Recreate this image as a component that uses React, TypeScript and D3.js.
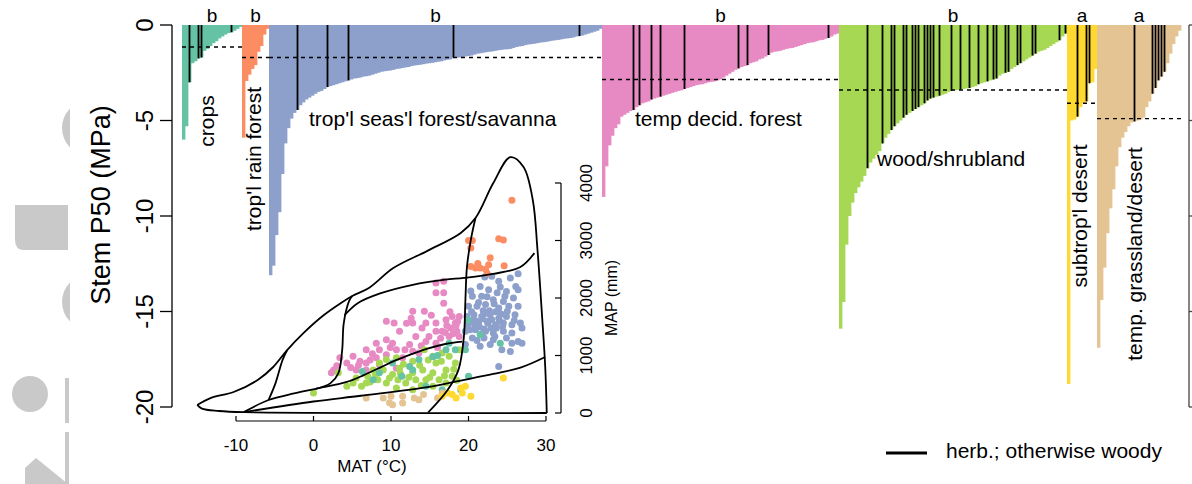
import React from 'react';
import * as d3 from 'd3';

// biome groups, left to right
const biomeNames = ['crops', "trop'l rain forest", "trop'l seas'l forest/savanna", 'temp decid. forest', 'wood/shrubland', "subtrop'l desert", 'temp. grassland/desert'];
const biomeLetters = ['b', 'b', 'b', 'b', 'b', 'a', 'a'];
const biomeMedians = [-1.15, -1.7, -1.7, -2.85, -3.4, -4.1, -4.9];
const biomeColors = ['#66c2a5', '#fc8d62', '#8da0cb', '#e78ac3', '#a6d854', '#ffd92f', '#e5c494'];

// stem P50 (MPa) per species, sorted within biome
const cropsP50 = [-6.0, -5.3, -3.0, -2.0, -1.9, -1.75, -1.7, -1.35, -1.25, -1.1, -0.95, -0.85, -0.7, -0.6, -0.5, -0.42, -0.38, -0.3, -0.2, -0.1];
const rainForestP50 = [-5.9, -2.93, -2.6, -2.3, -2.1, -1.4, -1.1, -0.5, -0.2];
const seasonalP50 = [
  -13.1, -12.6, -11.0, -9.8, -7.8, -6.2, -5.4, -4.9, -4.6, -4.45,
  -4.2, -4.05, -3.9, -3.8, -3.7, -3.6, -3.5, -3.45, -3.35, -3.25,
  -3.2, -3.15, -3.1, -3.05, -3.0, -2.95, -2.9, -2.85, -2.8, -2.78,
  -2.75, -2.7, -2.68, -2.65, -2.6, -2.55, -2.5, -2.45, -2.42, -2.4,
  -2.38, -2.35, -2.3, -2.28, -2.25, -2.22, -2.2, -2.15, -2.12, -2.1,
  -2.08, -2.05, -2.02, -2.0, -1.98, -1.95, -1.92, -1.9, -1.85, -1.82,
  -1.8, -1.7, -1.72, -1.7, -1.68, -1.65, -1.62, -1.6, -1.55, -1.5,
  -1.48, -1.45, -1.42, -1.4, -1.38, -1.35, -1.32, -1.3, -1.28, -1.27,
  -1.25, -1.2, -1.15, -1.12, -1.1, -1.05, -1.02, -1.0, -0.98, -0.95,
  -0.92, -0.9, -0.88, -0.85, -0.82, -0.8, -0.78, -0.75, -0.72, -0.7,
  -0.68, -0.65, -0.6, -0.58, -0.55, -0.5, -0.45, -0.4, -0.35, -0.3, -0.2,
];
const decidP50 = [
  -9.0, -7.4, -6.3, -5.8, -5.4, -5.2, -4.8, -4.7, -4.6, -4.5,
  -4.45, -4.3, -4.2, -4.1, -4.05, -4.0, -3.9, -3.85, -3.8, -3.75,
  -3.7, -3.65, -3.6, -3.55, -3.5, -3.45, -3.42, -3.35, -3.3, -3.25,
  -3.2, -3.15, -3.12, -3.1, -3.05, -3.0, -2.98, -2.95, -2.9, -2.85,
  -2.75, -2.65, -2.55, -2.45, -2.35, -2.27, -2.2, -2.15, -2.1, -2.0,
  -1.95, -1.9, -1.8, -1.75, -1.65, -1.57, -1.45, -1.4, -1.38, -1.35,
  -1.3, -1.25, -1.22, -1.2, -1.15, -1.1, -1.05, -1.0, -0.95, -0.92,
  -0.9, -0.85, -0.8, -0.78, -0.72, -0.68, -0.6, -0.5, -0.45,
];
const woodP50 = [
  -15.9, -14.5, -11.5, -10.0, -9.3, -8.8, -8.5, -8.2, -7.9, -7.5,
  -7.2, -7.0, -6.8, -6.6, -6.2, -5.9, -5.7, -5.5, -5.3, -5.15,
  -5.0, -4.85, -4.7, -4.6, -4.5, -4.4, -4.3, -4.2, -4.1, -3.95,
  -3.85, -3.8, -3.75, -3.7, -3.65, -3.6, -3.5, -3.45, -3.42, -3.4,
  -3.38, -3.35, -3.32, -3.3, -3.25, -3.2, -3.1, -3.05, -3.0, -2.95,
  -2.9, -2.85, -2.8, -2.65, -2.55, -2.5, -2.45, -2.3, -2.2, -2.1,
  -2.0, -1.9, -1.8, -1.7, -1.6, -1.5, -1.4, -1.35, -1.3, -1.2,
  -1.1, -1.0, -0.9, -0.8, -0.6, -0.45,
];
const subtropDesertP50 = [-18.8, -5.0, -4.95, -4.8, -4.3, -4.1, -4.0, -3.05, -3.0, -2.3];
const grasslandP50 = [
  -16.9, -14.4, -12.7, -10.9, -9.6, -8.6, -7.4, -6.4, -5.9, -5.6,
  -5.3, -5.1, -5.05, -5.0, -4.95, -4.85, -4.3, -4.0, -3.6, -3.3,
  -2.9, -2.7, -2.45, -2.0, -1.5, -1.0, -0.6, -0.3,
];

// indices of herbaceous species within each biome
const cropsHerb = [2, 5, 6, 16];
const rainForestHerb: number[] = [];
const seasonalHerb = [9, 19, 26, 61, 103];
const decidHerb = [10, 12, 16, 19, 27, 45, 48, 55, 75];
const woodHerb = [9, 14, 17, 18, 21, 22, 24, 25, 26, 28, 29, 30, 31, 33, 37, 40, 43, 46, 49, 51, 52, 55, 56, 59, 60, 64, 65, 73, 75];
const subtropDesertHerb = [3, 6, 7];
const grasslandHerb = [12, 18, 19, 20, 21, 22];

const yTicks = [0, -5, -10, -15, -20];

// inset: climate space (MAT degC, MAP mm)
const matTicks = [-10, 0, 10, 20, 30];
const mapTicks = [0, 1000, 2000, 3000, 4000];

const outerUpper: [number, number][] = [
  [-15, 140], [-13.3, 260], [-10.3, 365], [-7.2, 574], [-5.2, 800], [-3.4, 1095], [-1.3, 1390],
  [1.3, 1700], [3.5, 1910], [5.0, 2035], [7.2, 2180], [10.3, 2520], [14.7, 2820], [19.0, 3130],
  [20.9, 3390], [23.2, 4000], [25.4, 4450], [27.1, 4280], [28.3, 3700], [28.9, 2840], [29.5, 1670],
  [29.9, 800], [30.1, 0],
];
const outerLower: [number, number][] = [[30.1, 0], [-9.0, 15], [-12.2, 35], [-14.4, 75], [-15, 140]];
const tundraLine: [number, number][] = [[-3.4, 1095], [-4.0, 920], [-4.9, 520], [-5.8, 226]];
const forestWoodLine: [number, number][] = [
  [-9.0, 15], [-5.8, 226], [-2.5, 340], [0.3, 420], [4.3, 540], [6.5, 660], [8.6, 790],
  [10.5, 910], [12.8, 1030], [14.7, 1120], [17.0, 1200], [19.2, 1240],
];
const borealLine: [number, number][] = [[0.3, 420], [2.2, 520], [3.2, 690], [3.7, 1095], [3.9, 1560], [4.6, 1950], [5.0, 2035]];
const rainSeasonalLine: [number, number][] = [
  [4.0, 1700], [5.7, 1910], [8.6, 2080], [12.8, 2230], [17.0, 2320], [19.4, 2350],
  [23.2, 2420], [26.7, 2540], [28.5, 2780],
];
const woodDesertLine: [number, number][] = [[-9.0, 15], [0, 200], [6.1, 300], [14.7, 450], [19.0, 565], [23.2, 680], [26.7, 790], [29.9, 975]];
const tropicalLine: [number, number][] = [
  [14.8, 10], [17.3, 400], [18.7, 750], [19.4, 1320], [19.6, 1965], [19.8, 2540], [20.3, 3010], [20.9, 3390],
];

const cropsSites: [number, number][] = [
  [12.4, 810], [13.6, 930], [17.1, 1100], [18.3, 1100], [19.6, 1100], [19.0, 405], [16.6, 405], [21.5, 1360],
  [24.1, 1215], [20.0, 640], [17.5, 1215], [12.8, 750], [10.2, 870], [7.7, 580], [14.5, 465], [8.5, 700],
  [19.9, 1617], [15.4, 980], [16.0, 1000], [11.4, 640], [6.3, 720],
];
const rainForestSites: [number, number][] = [
  [25.6, 3700], [20.0, 3000], [20.5, 3000], [20.3, 2870], [23.9, 3030], [24.5, 3010], [22.8, 2700], [20.3, 2550],
  [20.9, 2520], [21.5, 2520], [22.2, 2500], [22.6, 2580], [24.6, 2560], [22.4, 2430], [21.2, 2600],
];
const seasonalSites: [number, number][] = [
  [25.4, 2350], [26.4, 2420], [26.1, 2200], [22.1, 2365], [23.0, 2380], [23.9, 2290], [21.5, 2200], [22.6, 2145],
  [23.7, 2090], [24.9, 2115], [26.4, 2145], [20.5, 2030], [21.7, 2030], [23.2, 1970], [24.5, 1940], [25.8, 2000],
  [20.0, 1855], [21.1, 1855], [22.2, 1885], [23.9, 1825], [25.2, 1855], [26.4, 1855], [19.8, 1680], [20.7, 1710],
  [21.7, 1680], [22.8, 1710], [23.9, 1650], [24.9, 1680], [26.0, 1710], [20.0, 1565], [21.3, 1565], [22.4, 1595],
  [23.5, 1535], [24.5, 1565], [25.6, 1535], [26.7, 1565], [26.9, 1480], [19.6, 1420], [20.9, 1450], [22.2, 1420],
  [23.2, 1390], [24.5, 1420], [25.6, 1390], [20.5, 1305], [22.0, 1305], [23.2, 1275], [24.9, 1305], [26.4, 1245],
  [25.6, 1215], [24.3, 1100], [25.4, 1070], [19.6, 1190], [21.5, 1160], [23.9, 810], [26.9, 1215], [22.8, 1190],
  [21.0, 1600], [21.8, 1640], [22.5, 1560], [23.0, 1620], [21.4, 1500], [22.0, 1460], [20.6, 1620], [23.6, 1480],
  [24.0, 1600], [22.7, 1780], [21.9, 1780], [23.3, 1900], [24.2, 1720], [20.2, 1450], [19.9, 1520],
  [20.4, 1760], [21.3, 1920], [22.4, 2020], [24.7, 2030], [25.0, 1770], [25.9, 1610], [23.4, 1330], [21.7, 1380],
  [20.8, 1540], [22.9, 1480], [24.4, 1510], [21.1, 1260], [20.3, 2120], [24.1, 2190], [22.0, 1720], [23.5, 1760],
];
const decidSites: [number, number][] = [
  [15.8, 2260], [16.8, 2290], [15.8, 2090], [16.8, 2090], [16.8, 1910], [12.8, 1770], [14.3, 1770], [9.4, 1595],
  [10.4, 1565], [12.6, 1650], [12.8, 1565], [14.5, 1565], [15.8, 1565], [17.1, 1620], [17.9, 1680], [18.8, 1680],
  [18.3, 1565], [17.7, 1480], [18.5, 1420], [16.6, 1420], [15.8, 1420], [13.2, 1330], [11.1, 1420], [9.4, 1275],
  [8.1, 1215], [10.2, 1215], [12.4, 1190], [14.5, 1245], [15.8, 1215], [17.5, 1330], [18.8, 1330], [6.8, 1100],
  [8.5, 1100], [10.7, 1100], [12.8, 1075], [5.1, 985], [6.0, 900], [6.8, 870], [8.1, 960], [9.4, 1015],
  [4.3, 870], [3.4, 960], [2.6, 750], [2.3, 700], [5.5, 750], [6.8, 750], [8.5, 840], [10.7, 780],
  [11.5, 960], [13.6, 1045], [14.9, 1330], [17.2, 1520], [18.0, 1380], [16.4, 1300], [17.6, 1760],
  [18.4, 1520], [17.0, 1400], [7.3, 920], [5.8, 830], [7.6, 1030], [9.9, 1140], [11.8, 1100], [13.9, 1170],
  [16.0, 1140], [14.0, 1480], [12.0, 1560], [18.6, 1590], [15.2, 1700], [3.0, 820], [4.8, 790],
];
const woodSites: [number, number][] = [
  [5.1, 520], [5.5, 610], [7.0, 640], [7.7, 750], [8.3, 580], [9.0, 750], [9.4, 520], [10.2, 670],
  [10.9, 580], [11.1, 780], [11.9, 520], [12.8, 700], [13.2, 580], [14.1, 750], [14.5, 580], [15.4, 700],
  [15.8, 870], [16.2, 580], [16.6, 1045], [17.1, 750], [17.5, 985], [17.9, 640], [18.3, 870], [18.8, 1100],
  [8.5, 870], [9.4, 930], [10.7, 960], [12.8, 900], [14.3, 1100], [15.4, 985], [6.2, 465], [6.8, 520],
  [10.7, 435], [12.8, 405], [15.4, 465], [17.1, 520], [4.3, 465], [3.2, 700], [0, 350],
  [11.6, 850], [13.7, 830], [15.0, 620], [16.9, 650], [18.1, 760], [12.3, 620], [9.8, 610], [7.3, 540],
  [13.9, 480], [16.5, 900], [11.2, 690], [14.8, 920], [18.5, 570], [8.0, 680],
];
const grasslandSites: [number, number][] = [
  [6.8, 260], [9.0, 260], [10.0, 290], [11.5, 175], [10.2, 145], [13.0, 260], [13.6, 230], [16.0, 260],
  [16.6, 350], [11.5, 290], [9.8, 180], [14.2, 320],
];
const desertSites: [number, number][] = [
  [17.3, 350], [17.9, 320], [19.0, 435], [19.6, 465], [20.3, 290], [19.2, 350], [24.5, 610], [16.6, 290], [18.4, 260],
];

const biomeValues = [cropsP50, rainForestP50, seasonalP50, decidP50, woodP50, subtropDesertP50, grasslandP50];
const biomeHerb = [cropsHerb, rainForestHerb, seasonalHerb, decidHerb, woodHerb, subtropDesertHerb, grasslandHerb];
const biomeSites = [decidSites, seasonalSites, rainForestSites, woodSites, cropsSites, grasslandSites, desertSites];
const siteColorIdx = [3, 2, 1, 4, 0, 6, 5];

// label placement: [x, y, rotated]
const labelPos: [number, number, boolean][] = [
  [214, 121, true], [261, 159, true], [309, 126, false], [635, 126, false],
  [877, 166, false], [1087, 216, true], [1142, 254, true],
];

const FONT = '"Liberation Sans", Arial, Helvetica, sans-serif';

export default function App() {
  const bars = biomeValues.flatMap((vals, b) =>
    vals.map((v, i) => ({ key: `${b}-${i}`, biome: b, value: v, herb: biomeHerb[b].includes(i) })));

  const x = d3.scaleBand<string>().domain(bars.map(d => d.key)).range([182, 1181]);
  const bw = x.bandwidth();
  const y = d3.scaleLinear().domain([-20, 0]).range([407, 25]);

  const biomeSpan = biomeValues.map((vals, b) => {
    const x0 = x(`${b}-0`)!;
    const x1 = x(`${b}-${vals.length - 1}`)! + bw;
    return [x0, x1];
  });

  const mat = d3.scaleLinear().domain([-10, 30]).range([236, 546]);
  const map = d3.scaleLinear().domain([0, 4000]).range([413, 183]);
  const curve = d3.line<[number, number]>()
    .x(d => mat(d[0])).y(d => map(d[1]))
    .curve(d3.curveCatmullRom.alpha(0.5));
  const boundaries = [outerUpper, outerLower, tundraLine, forestWoodLine, borealLine, rainSeasonalLine, woodDesertLine, tropicalLine];

  return (
    <svg width={1192} height={484} style={{ position: 'absolute', left: 0, top: 0, background: '#fff' }} fontFamily={FONT}>
      <defs>
        <clipPath id="edge"><rect x={0} y={0} width={70} height={484} /></clipPath>
      </defs>
      {/* faint logo at the left edge */}
      <g fill="#c9c9c9" clipPath="url(#edge)">
        <circle cx={90} cy={128} r={28} />
        <circle cx={90} cy={302} r={28} />
        <path d="M15,205 H68 V250 H24 Q15,250 15,240 Z" />
        <circle cx={30} cy={394} r={18} />
        <rect x={65} y={378} width={4} height={45} />
        <rect x={65} y={432} width={4} height={52} />
        <path d="M25,484 V468 L36,458 L68,484 Z" />
      </g>

      {/* bars */}
      {bars.map(d => (
        <rect key={d.key} x={x(d.key)} y={y(0)} width={bw + 0.4} height={y(d.value) - y(0)} fill={biomeColors[d.biome]} />
      ))}
      {bars.filter(d => d.herb).map(d => (
        <line key={'h' + d.key} x1={x(d.key)! + bw / 2} x2={x(d.key)! + bw / 2} y1={y(0)} y2={y(d.value)} stroke="#000" strokeWidth={1.8} />
      ))}
      {biomeMedians.map((m, b) => (
        <line key={'m' + b} x1={biomeSpan[b][0]} x2={biomeSpan[b][1]} y1={y(m)} y2={y(m)} stroke="#000" strokeWidth={1.4} strokeDasharray="4,4" />
      ))}
      {biomeLetters.map((l, b) => (
        <text key={'l' + b} x={(biomeSpan[b][0] + biomeSpan[b][1]) / 2} y={22} fontSize={19} textAnchor="middle">{l}</text>
      ))}
      {biomeNames.map((n, b) => {
        const [lx, ly, rot] = labelPos[b];
        return rot
          ? <text key={'n' + b} transform={`translate(${lx},${ly}) rotate(-90)`} fontSize={21} textAnchor="middle">{n}</text>
          : <text key={'n' + b} x={lx} y={ly} fontSize={21}>{n}</text>;
      })}

      {/* main y axis */}
      <line x1={172} x2={172} y1={y(0)} y2={y(-20)} stroke="#000" strokeWidth={1.3} />
      {yTicks.map(t => (
        <g key={'yt' + t}>
          <line x1={160} x2={172} y1={y(t)} y2={y(t)} stroke="#000" strokeWidth={1.3} />
          <text transform={`translate(153,${y(t)}) rotate(-90)`} fontSize={24} textAnchor="middle">{t}</text>
        </g>
      ))}
      <text transform="translate(110,205) rotate(-90)" fontSize={27} textAnchor="middle">Stem P50 (MPa)</text>

      {/* next panel edge */}
      <line x1={1189} x2={1189} y1={y(0)} y2={y(-20)} stroke="#444" strokeWidth={1.3} />
      {yTicks.map(t => (
        <line key={'rt' + t} x1={1189} x2={1193} y1={y(t)} y2={y(t)} stroke="#444" strokeWidth={1.3} />
      ))}

      {/* inset: sites in climate space */}
      {biomeSites.map((sites, k) => sites.map((s, i) => (
        <circle key={`s${k}-${i}`} cx={mat(s[0])} cy={map(s[1])} r={3.5} fill={biomeColors[siteColorIdx[k]]} />
      )))}
      {boundaries.map((b, i) => (
        <path key={'b' + i} d={curve(b) ?? ''} fill="none" stroke="#000" strokeWidth={1.8} />
      ))}
      <line x1={mat(-10)} x2={mat(30)} y1={421} y2={421} stroke="#000" strokeWidth={1.2} />
      {matTicks.map(t => (
        <g key={'mt' + t}>
          <line x1={mat(t)} x2={mat(t)} y1={416} y2={421} stroke="#000" strokeWidth={1.2} />
          <text x={mat(t)} y={451} fontSize={17} textAnchor="middle">{t}</text>
        </g>
      ))}
      <text x={372} y={472} fontSize={17} textAnchor="middle">MAT (°C)</text>
      <line x1={561} x2={561} y1={map(0)} y2={map(4000)} stroke="#000" strokeWidth={1.2} />
      {mapTicks.map(t => (
        <g key={'pt' + t}>
          <line x1={555} x2={561} y1={map(t)} y2={map(t)} stroke="#000" strokeWidth={1.2} />
          <text transform={`translate(592,${map(t)}) rotate(-90)`} fontSize={17} textAnchor="middle">{t}</text>
        </g>
      ))}
      <text transform={`translate(617,${map(2000)}) rotate(-90)`} fontSize={16} textAnchor="middle">MAP (mm)</text>

      {/* legend */}
      <line x1={886} x2={927} y1={453} y2={453} stroke="#000" strokeWidth={3} />
      <text x={946} y={458} fontSize={21}>herb.; otherwise woody</text>
    </svg>
  );
}
